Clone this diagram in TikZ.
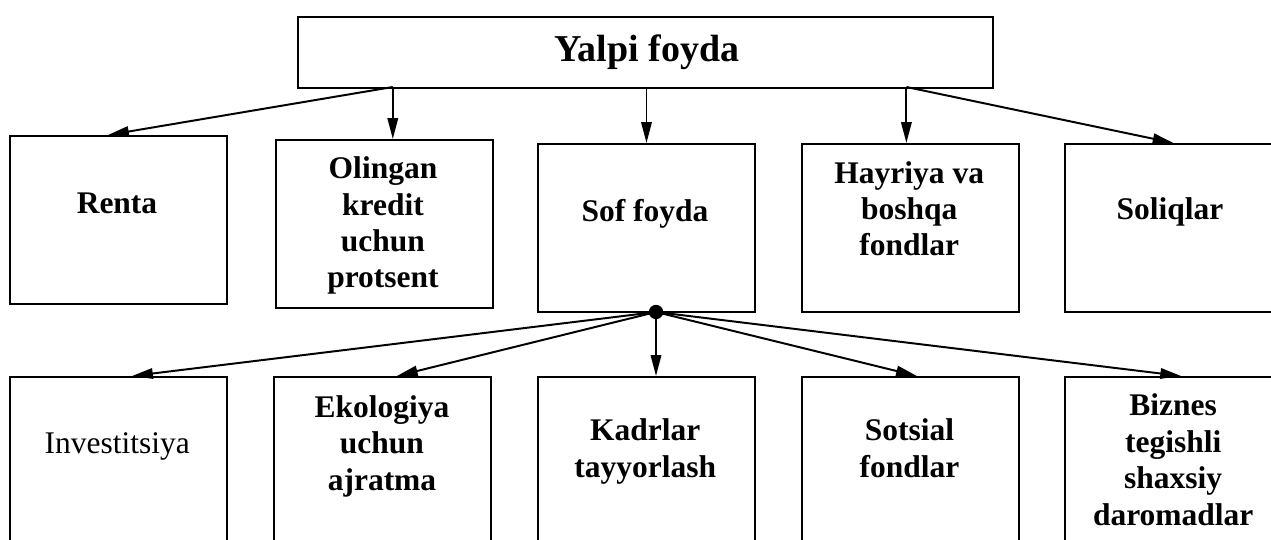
\documentclass[tikz,border=0pt]{standalone}
\usepackage{fontspec}
\setmainfont{Liberation Serif}
\usetikzlibrary{arrows.meta}

\begin{document}
\begin{tikzpicture}[x=1cm,y=1cm]
  \tikzset{
    box/.style={draw,line width=1.4pt,minimum width=5.425cm,minimum height=4.2cm,
      anchor=north west,inner sep=0pt},
    lowbox/.style={box,minimum height=4.8cm},
    lbl/.style={font=\bfseries\fontsize{22.4}{25.9}\selectfont,align=center,
      inner sep=0pt,anchor=base},
    conn/.style={line width=1.4pt,-{Triangle[length=0.52cm,width=0.26cm]}},
  }
  \useasboundingbox (0,0) rectangle (31.775,13.475);
  \clip (0,0) rectangle (31.775,13.475);

  % Yalpi foyda, page 31.775 x 13.475.
  \node[box,minimum width=17.375cm,minimum height=1.775cm] (yalpi) at (7.425,13.075) {};
  \node[lbl,font=\bfseries\fontsize{27}{30}\selectfont] (t-yalpi) at (16.175,11.925) {Yalpi foyda};
  \coordinate (ya) at (9.82,11.3);
  \coordinate (yb) at (22.66,11.3);

  % Upper row.
  \node[box] (renta)   at (0.225,10.1) {};
  \node[box] (olingan) at (6.875,10.0) {};
  \node[box] (sof)     at (13.425,9.9) {};
  \node[box] (hayriya) at (20.025,9.9) {};
  \node[box] (soliq)   at (26.6,9.9) {};

  % base = last line
  \node[lbl] (t-renta)   at (2.925,8.125) {Renta};
  \node[lbl] (t-olingan) at (9.575,6.275) {Olingan\\kredit\\uchun\\protsent};
  \node[lbl] (t-sof)     at (16.125,7.925) {Sof foyda};
  \node[lbl] (t-hayriya) at (22.73,7.075) {Hayriya va\\boshqa\\fondlar};
  \node[lbl] (t-soliq)   at (29.25,7.975) {Soliqlar};

  \draw[conn] (ya) -- ([xshift=-0.26cm]renta.north);
  \draw[conn] (ya) -- (ya |- olingan.north);
  \draw[conn] (yalpi.south -| sof.north) -- (sof.north);
  \draw[conn] (yb) -- (yb |- hayriya.north);
  \draw[conn] (yb) -- (soliq.north);

  % Lower row.
  \node[circle,fill,inner sep=0pt,minimum size=0.36cm] (dot) at (16.4,5.675) {};
  \node[lowbox] (invest)  at (0.225,4.075) {};
  \node[lowbox] (ekolog)  at (6.825,4.075) {};
  \node[lowbox] (kadr)    at (13.425,4.075) {};
  \node[lowbox] (sotsial) at (20.025,4.075) {};
  \node[lowbox] (biznes)  at (26.6,4.075) {};

  \node[lbl,font=\fontsize{22.4}{25.9}\selectfont] (t-invest) at (2.93,2.15) {Investitsiya};
  \node[lbl] (t-ekolog)  at (9.55,1.225) {Ekologiya\\uchun\\ajratma};
  \node[lbl] (t-kadr)    at (16.13,1.55) {Kadrlar\\tayyorlash};
  \node[lbl] (t-sotsial) at (22.74,1.55) {Sotsial\\fondlar};
  \node[lbl] (t-biznes)  at (29.33,0.35) {Biznes\\tegishli\\shaxsiy\\daromadlar};

  \foreach \bx/\dx in {invest/0.34,ekolog/0.36,sotsial/0.16,biznes/0.19} {
    \draw[conn] (dot.center) -- ([xshift=\dx cm]\bx.north);
  }
  \draw[conn] (dot.center) -- (dot |- kadr.north);
\end{tikzpicture}
\end{document}
